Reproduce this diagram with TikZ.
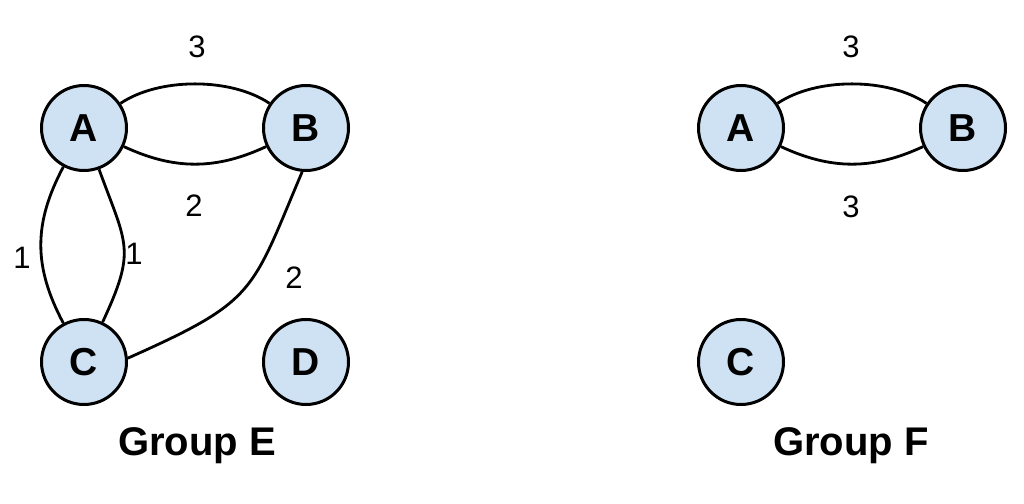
\documentclass[tikz,border=0pt]{standalone}
\usepackage{fontspec}
\setmainfont{Liberation Sans}
\definecolor{nodefill}{HTML}{CFE2F3}
\definecolor{edgecol}{HTML}{000000}
\begin{document}
\begin{tikzpicture}[x=1pt,y=1pt,
  vtx/.style={circle,draw=edgecol,fill=nodefill,line width=3pt,minimum size=85pt,inner sep=0pt,font=\fontsize{39}{44}\selectfont\bfseries},
  wlabel/.style={font=\fontsize{31}{36}\selectfont,inner sep=0pt},
  glabel/.style={font=\fontsize{40}{46}\selectfont\bfseries,inner sep=0pt},
  edge/.style={line width=2.8pt,draw=edgecol}]
\useasboundingbox (0,0) rectangle (1024,503);
% Group E
\node[vtx] (EA) at (84,375) {A};
\node[vtx] (EB) at (306,375) {B};
\node[vtx] (EC) at (84,141) {C};
\node[vtx] (ED) at (306,141) {D};
\draw[edge] (EA) to[out=34,in=146,looseness=0.8] (EB);
\draw[edge] (EA) to[out=-25,in=205,looseness=1.0] (EB);
\draw[edge] (EA) to[out=-118,in=118,looseness=1.05] (EC);
\draw[edge] (EA) to[out=-70,in=65,looseness=1.35] (EC);
\draw[edge] (EB.-95) to[out=-113,in=24,out looseness=1.32,in looseness=1.42] (EC.5);
\node[wlabel] (e3) at (197,456) {3};
\node[wlabel] (e2a) at (194,297) {2};
\node[wlabel] (e1a) at (22,245) {1};
\node[wlabel] (e1b) at (134,249) {1};
\node[wlabel] (e2b) at (294,225) {2};
\node[glabel] (gE) at (197,57) {Group E};
% Group F
\node[vtx] (FA) at (741,375) {A};
\node[vtx] (FB) at (963,375) {B};
\node[vtx] (FC) at (741,141) {C};
\draw[edge] (FA) to[out=34,in=146,looseness=0.8] (FB);
\draw[edge] (FA) to[out=-25,in=205,looseness=1.0] (FB);
\node[wlabel] (f3a) at (851,456) {3};
\node[wlabel] (f3b) at (851,296) {3};
\node[glabel] (gF) at (851,57) {Group F};
\end{tikzpicture}
\end{document}
